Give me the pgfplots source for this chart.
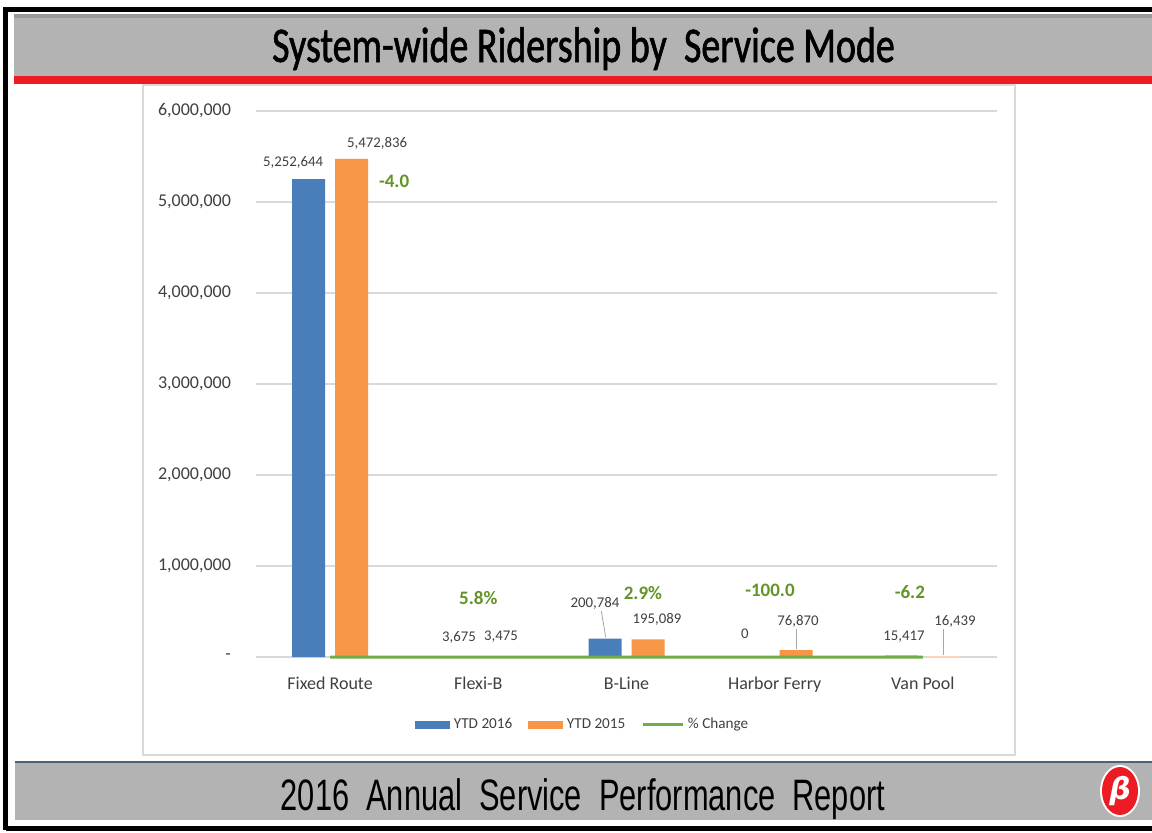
\documentclass[border=0pt]{standalone}
\usepackage{pgfplots}
\pgfplotsset{compat=1.18}
\usepackage{fontspec}
\setmainfont{Carlito}
\newfontfamily\titlefont[FakeStretch=0.76,FakeBold=1.2]{Carlito}
\newfontfamily\footfont[FakeStretch=0.70]{Liberation Sans}
\newfontfamily\symfont{DejaVu Sans}
\definecolor{xlblue}{RGB}{74,126,187}
\definecolor{xlorange}{RGB}{247,150,70}
\definecolor{xlpeach}{RGB}{250,214,190}
\definecolor{xlgreen}{RGB}{112,173,71}
\definecolor{lblgreen}{RGB}{98,148,40}
\definecolor{bargray}{RGB}{179,179,179}
\definecolor{xred}{RGB}{237,28,36}
\definecolor{darkline}{RGB}{79,98,114}
\definecolor{gridc}{RGB}{217,217,217}
\definecolor{txt}{RGB}{64,64,64}
\tikzset{
  dl/.style={font=\fontsize{7.4}{8}\selectfont, text=txt, inner sep=0pt},
  pl/.style={font=\bfseries\fontsize{9.5}{11}\selectfont, text=lblgreen, inner sep=0pt},
  ld/.style={draw=black!35, line width=0.4pt}
}
\begin{document}
\begin{tikzpicture}
\path[use as bounding box] (0,0) rectangle (576pt,-416pt);
\fill[white] (0,0) rectangle (576pt,-416pt);
% title bar
\fill[bargray] (7pt,-7pt) rectangle (576pt,-38pt);
\fill[black!40] (7pt,-7pt) rectangle (576pt,-9pt);
\fill[xred] (7pt,-38pt) rectangle (576pt,-42pt);
% bottom bar
\fill[bargray] (7.5pt,-381.5pt) rectangle (576pt,-410pt);
\draw[darkline, line width=1pt] (7.5pt,-381pt) -- (576pt,-381pt);
% black frame
\draw[black, line width=2.5pt] (2.75pt,-415pt) -- (2.75pt,-4.75pt) -- (576pt,-4.75pt);
\draw[black, line width=2.5pt] (2.75pt,-414.25pt) -- (576pt,-414.25pt);
% chart box
\draw[gridc, line width=0.6pt, fill=white] (71.5pt,-42.5pt) rectangle (507.5pt,-377.5pt);
% titles
\node[anchor=base, inner sep=0pt] at (291.75pt,-31pt) {\titlefont\fontsize{25}{28}\selectfont System-wide Ridership by\ \ Service Mode};
\node[anchor=base, inner sep=0pt] at (291.5pt,-405pt) {\footfont\fontsize{22}{25}\selectfont 2016\ \ Annual\ \ Service\ \ Performance\ \ Report};
% logo
\fill[white] (560pt,-395.5pt) ellipse (10pt and 13pt);
\fill[xred] (560pt,-395.5pt) ellipse (9pt and 12pt);
\node[text=white, inner sep=0pt] at (560pt,-395.5pt) {\symfont\bfseries\itshape\fontsize{15}{15}\selectfont β};

\begin{axis}[
  at={(128pt,-328.5pt)}, anchor=south west,
  scale only axis, width=370.5pt, height=273pt,
  xmin=-0.5, xmax=4.5, ymin=0, ymax=6000000,
  clip=false,
  scaled y ticks=false,
  axis line style={draw=none},
  major tick length=0pt,
  ymajorgrids, grid style={gridc, line width=0.6pt},
  ytick={0,1000000,2000000,3000000,4000000,5000000,6000000},
  yticklabels={{-\hspace{3pt}},{1,000,000},{2,000,000},{3,000,000},{4,000,000},{5,000,000},{6,000,000}},
  xtick={0,1,2,3,4},
  xticklabels={Fixed Route,Flexi-B,B-Line,Harbor Ferry,Van Pool},
  tick label style={font=\fontsize{9}{10}\selectfont, text=txt},
  yticklabel style={xshift=-9pt},
  xticklabel style={yshift=-6.5pt},
  legend style={at={(0.441,-0.1245)}, anchor=center, draw=none, fill=none,
    legend columns=3, font=\fontsize{7.6}{9}\selectfont\color{txt},
    /tikz/every even column/.append style={column sep=7pt},
    /tikz/every odd column/.append style={column sep=0.8pt},
    inner sep=0pt, nodes={inner sep=1pt}},
]
\addplot[ybar, bar width=16.5pt, bar shift=-10.75pt, fill=xlblue, draw=none,
  legend image code/.code={\fill[xlblue] (0pt,-2pt) rectangle (17.5pt,2pt);}]
  coordinates {(0,5252644) (1,3675) (2,200784) (3,0) (4,15417)};
\addlegendentry{YTD 2016}
\addplot[ybar, bar width=16.5pt, bar shift=10.75pt, fill=xlorange, draw=none,
  legend image code/.code={\fill[xlorange] (0pt,-2pt) rectangle (17.5pt,2pt);}]
  coordinates {(0,5472836) (1,3475) (2,195089) (3,76870)};
\addlegendentry{YTD 2015}
\addplot[ybar, bar width=16.5pt, bar shift=10.75pt, fill=xlpeach, draw=none, forget plot]
  coordinates {(4,16439)};
\addplot[sharp plot, xlgreen, line width=1.5pt,
  legend image code/.code={\draw[xlgreen, line width=1.5pt] (0pt,0pt) -- (20pt,0pt);}]
  coordinates {(0,-4.0) (1,5.8) (2,2.9) (3,-100.0) (4,-6.2)};
\addlegendentry{\% Change}
% data labels
\node[dl] at (axis cs:-0.25,5440000) {5,252,644};
\node[dl] at (axis cs:0.317,5648000) {5,472,836};
\node[dl] at (axis cs:0.87,220000) {3,675};
\node[dl] at (axis cs:1.153,220000) {3,475};
\node[dl] at (axis cs:1.788,593000) {200,784};
\node[dl] at (axis cs:2.206,418000) {195,089};
\node[dl] at (axis cs:2.799,253000) {0};
\node[dl] at (axis cs:3.157,396000) {76,870};
\node[dl] at (axis cs:3.872,220000) {15,417};
\node[dl] at (axis cs:4.216,396000) {16,439};
% leader lines
\draw[ld] (axis cs:1.83,505000) -- (axis cs:1.86,215000);
\draw[ld] (axis cs:3.145,308000) -- (axis cs:3.145,88000);
\draw[ld] (axis cs:4.135,308000) -- (axis cs:4.135,20000);
% percent labels
\node[pl] at (axis cs:0.432,5231000) {-4.0};
\node[pl] at (axis cs:1.0,648000) {5.8\%};
\node[pl] at (axis cs:2.111,703000) {2.9\%};
\node[pl] at (axis cs:2.968,736000) {-100.0};
\node[pl] at (axis cs:3.912,714000) {-6.2};
\end{axis}
\end{tikzpicture}
\end{document}
